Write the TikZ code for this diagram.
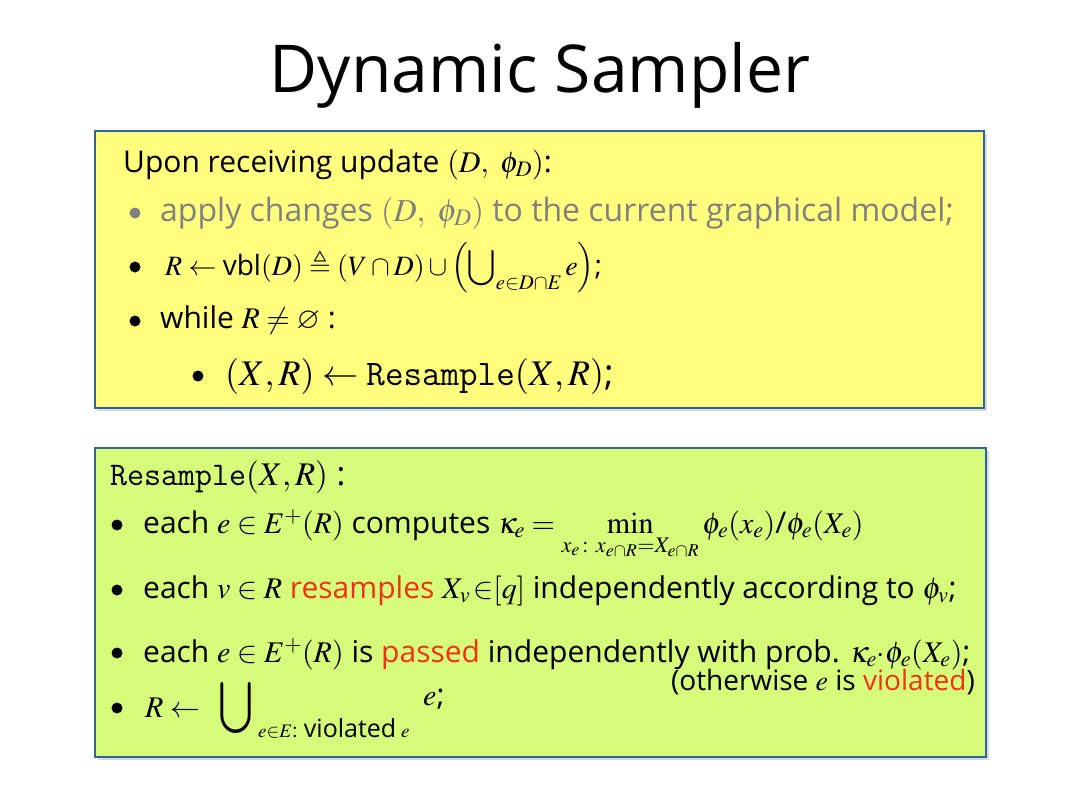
\documentclass[tikz,border=0pt]{standalone}
\usepackage{amsmath,amssymb}
\usepackage{mathptmx}
\usepackage[no-math]{fontspec}
\setmainfont{Open Sans}
\usepackage{graphicx}
\usetikzlibrary{shadows}
\definecolor{boxblue}{RGB}{45,100,165}
\definecolor{padyellow}{RGB}{255,255,125}
\definecolor{padgreen}{RGB}{214,250,122}
\definecolor{hotred}{RGB}{240,50,20}
\definecolor{textgray}{RGB}{128,128,128}
\newcommand\bodysize{\fontsize{30}{34}\selectfont}
\newcommand\subsize{\fontsize{19}{22}\selectfont}
\tikzset{
  panel/.style={draw=boxblue, line width=2.2pt, drop shadow={opacity=0.3, shadow xshift=2.5pt, shadow yshift=-2.5pt}},
  dot/.style={circle, fill=black, inner sep=0pt, minimum size=11pt},
  line/.style={anchor=base west, inner sep=0pt, font=\bodysize},
}
\begin{document}
\begin{tikzpicture}[x=1pt,y=-1pt]
\useasboundingbox (0,0) rectangle (1080,809);
\node[font=\fontsize{66}{80}\selectfont, anchor=base, inner sep=0pt] (title) at (540,92) {Dynamic Sampler};

\draw[panel, fill=padyellow] (95,131) rectangle (984,408);
\node[line] (upon) at (123,172) {Upon receiving update $(D,\ \phi_D)$:};
\node[dot, fill=textgray] (y1) at (135,213) {};
\node[line, text=textgray, font=\fontsize{32}{36}\selectfont] (apply) at (160,221) {apply changes $(D,\ \phi_D)$ to the current graphical model;};
\node[dot] (y2) at (135,267) {};
\node[line, font=\fontsize{28}{32}\selectfont] (vbl) at (165,275) {$R \leftarrow \text{vbl}(D) \triangleq (V\cap D)\cup\left(\displaystyle\bigcup\nolimits_{e\in D\cap E} e\right)$;};
\node[dot] (y3) at (135,321) {};
\node[line] (while) at (160,328) {while $R\neq\varnothing$ :};
\node[dot] (y4) at (198,376) {};
\node[line, font=\fontsize{36}{40}\selectfont] (call) at (225,385) {$(X,R)\leftarrow\texttt{Resample}(X,R)$;};

\draw[panel, fill=padgreen] (95,448) rectangle (986,757);
\node[line, font=\fontsize{33}{36}\selectfont] (head) at (110,485) {$\texttt{Resample}(X,R)$ :};
\node[dot] (g1) at (117,525) {};
\node[line] (kappa) at (143,533) {each $e\in E^{+}(R)$ computes $\displaystyle\kappa_e = \min_{x_e\colon x_{e\cap R}=X_{e\cap R}} \phi_e(x_e)\text{/}\phi_e(X_e)$};
\node[dot] (g2) at (117,590) {};
\node[line] (resample) at (143,598) {each $v\in R$ \textcolor{hotred}{resamples} $X_v\,{\in}[q]$ independently according to $\phi_v$;};
\node[dot] (g3) at (117,653) {};
\node[line] (passed) at (143,662) {each $e\in E^{+}(R)$ is \textcolor{hotred}{passed} independently with prob. $\kappa_e{\cdot}\phi_e(X_e)$;};
\node[anchor=base east, inner sep=0pt, font=\fontsize{28}{32}\selectfont] (other) at (975,690) {(otherwise $e$ is \textcolor{hotred}{violated})};
\node[dot] (g4) at (117,708) {};
\node[line] (reset) at (145,717) {$R\leftarrow$};
\node[anchor=south west, inner sep=0pt] (cup) at (218,734) {\resizebox*{35pt}{51pt}{$\bigcup$}};
\node[line, font=\subsize] (under) at (258,737) {$e{\in}E$: {\fontsize{25}{30}\selectfont violated} $e$};
\node[line] (tail) at (423,705) {$e$;};
\end{tikzpicture}
\end{document}
